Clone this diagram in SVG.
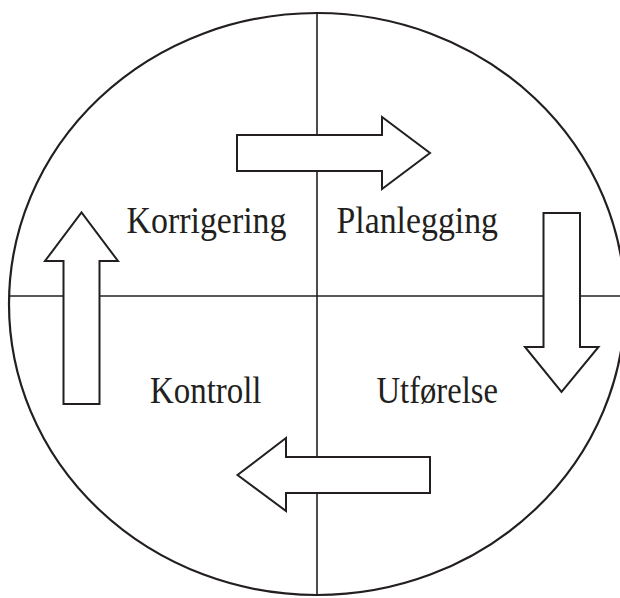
<svg xmlns="http://www.w3.org/2000/svg" width="620" height="598" viewBox="0 0 620 598">
<style>
.ln{stroke:#231f20;stroke-width:1.6;fill:none}
.ring{stroke:#231f20;stroke-width:2.2;fill:none}
.arr{stroke:#231f20;stroke-width:2;fill:#fff;stroke-linejoin:miter}
.lbl{font-family:"Liberation Serif","Times New Roman",serif;font-size:37px;fill:#231f20}
</style>
<rect width="620" height="598" fill="#fff"/>
<g id="connectors">
<ellipse class="ring" cx="317" cy="304" rx="308" ry="291"/>
<line class="ln" x1="317" y1="13" x2="317" y2="595"/>
<line class="ln" x1="10" y1="296" x2="620" y2="296"/>
<polygon id="arrow-right" class="arr" points="237,135 382,135 382,117 430,153 382,189 382,171 237,171"/>
<polygon id="arrow-down" class="arr" points="543.5,213 580,213 580,347 598.5,347 561.5,392 525,347 543.5,347"/>
<polygon id="arrow-left" class="arr" points="430,457 286,457 286,438 237.5,475 286,511 286,493 430,493"/>
<polygon id="arrow-up" class="arr" points="63.5,404 63.5,261 45,261 81.5,212.5 118,261 99.5,261 99.5,404"/>
</g>
<g id="korrigering"><text class="lbl" x="126.5" y="233" textLength="160" lengthAdjust="spacingAndGlyphs">Korrigering</text></g>
<g id="planlegging"><text class="lbl" x="336.5" y="233" textLength="161.5" lengthAdjust="spacingAndGlyphs">Planlegging</text></g>
<g id="kontroll"><text class="lbl" x="150" y="403" textLength="111.5" lengthAdjust="spacingAndGlyphs">Kontroll</text></g>
<g id="utforelse"><text class="lbl" x="376.5" y="403" textLength="121.5" lengthAdjust="spacingAndGlyphs">Utførelse</text></g>
</svg>
